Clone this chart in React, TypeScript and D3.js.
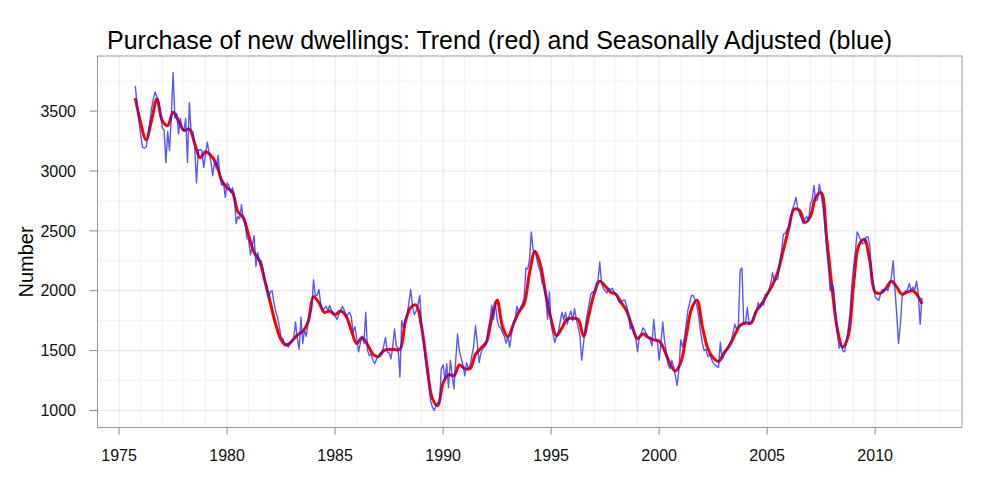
import React from "react";
import * as d3 from "d3";

// Monthly seasonally adjusted series, starting October 1975
const saStart = 1975 + 9 / 12;
const sa1975 = [3710, 3560, 3420];
const sa1976 = [3300, 3200, 3190, 3200, 3290, 3400, 3520, 3600, 3660, 3620, 3580, 3480];
const sa1977 = [3360, 3340, 3070, 3330, 3170, 3450, 3820, 3440, 3480, 3310, 3440, 3360];
const sa1978 = [3330, 3440, 3070, 3570, 3330, 3330, 3200, 2900, 3170, 3180, 3170, 3030];
const sa1979 = [3140, 3240, 3150, 3080, 2960, 3080, 3020, 3130, 2960, 2880, 2900, 2780];
const sa1980 = [2900, 2880, 2820, 2860, 2800, 2560, 2620, 2600, 2720, 2600, 2560, 2440];
const sa1981 = [2420, 2300, 2380, 2460, 2200, 2320, 2240, 2250, 2180, 2080, 2050, 1940];
const sa1982 = [1990, 2000, 1900, 1830, 1780, 1700, 1610, 1600, 1550, 1560, 1530, 1560];
const sa1983 = [1580, 1600, 1740, 1600, 1510, 1780, 1560, 1670, 1620, 1740, 1800, 1850];
const sa1984 = [2090, 1960, 1960, 2010, 1890, 1840, 1850, 1870, 1830, 1880, 1830, 1820];
const sa1985 = [1790, 1760, 1800, 1830, 1870, 1840, 1790, 1800, 1820, 1780, 1650, 1700];
const sa1986 = [1600, 1490, 1560, 1620, 1560, 1820, 1500, 1460, 1470, 1420, 1390, 1430];
const sa1987 = [1450, 1480, 1470, 1540, 1610, 1490, 1480, 1430, 1530, 1680, 1540, 1520];
const sa1988 = [1280, 1750, 1690, 1760, 1800, 1900, 2010, 1870, 1800, 1830, 1880, 1960];
const sa1989 = [1720, 1600, 1450, 1320, 1250, 1080, 1030, 1000, 1040, 1070, 1060, 1350];
const sa1990 = [1380, 1260, 1390, 1190, 1420, 1300, 1180, 1420, 1640, 1500, 1440, 1380];
const sa1991 = [1290, 1400, 1350, 1380, 1460, 1540, 1710, 1560, 1400, 1480, 1520, 1530];
const sa1992 = [1560, 1680, 1750, 1880, 1760, 1900, 1760, 1700, 1690, 1650, 1620, 1560];
const sa1993 = [1620, 1530, 1640, 1720, 1760, 1870, 1820, 1860, 1890, 1940, 2190, 2180];
const sa1994 = [2260, 2490, 2340, 2330, 2270, 2200, 2160, 2060, 2050, 1950, 1760, 1990];
const sa1995 = [1720, 1640, 1570, 1620, 1660, 1740, 1820, 1760, 1820, 1720, 1790, 1830];
const sa1996 = [1750, 1850, 1760, 1700, 1620, 1420, 1560, 1700, 1800, 1880, 1970, 1990];
const sa1997 = [1980, 2060, 2080, 2240, 2060, 2020, 2000, 1980, 2020, 2010, 2020, 1990];
const sa1998 = [1970, 1930, 1900, 1910, 1920, 1920, 1870, 1800, 1680, 1720, 1650, 1600];
const sa1999 = [1490, 1620, 1640, 1690, 1670, 1640, 1610, 1590, 1540, 1760, 1600, 1580];
const sa2000 = [1420, 1560, 1740, 1580, 1480, 1380, 1350, 1420, 1370, 1290, 1210, 1340];
const sa2001 = [1590, 1530, 1600, 1720, 1840, 1900, 1960, 1960, 1920, 1870, 1780, 1660];
const sa2002 = [1560, 1500, 1510, 1450, 1470, 1430, 1400, 1380, 1370, 1360, 1570, 1430];
const sa2003 = [1460, 1490, 1520, 1560, 1580, 1640, 1720, 1680, 1700, 2170, 2190, 1720];
const sa2004 = [1730, 1860, 1720, 1730, 1760, 1800, 1830, 1900, 1860, 1900, 1880, 1970];
const sa2005 = [1960, 2010, 2060, 2150, 2080, 2090, 2100, 2250, 2330, 2470, 2480, 2510];
const sa2006 = [2530, 2600, 2680, 2720, 2780, 2690, 2640, 2600, 2560, 2600, 2620, 2580];
const sa2007 = [2720, 2760, 2880, 2750, 2760, 2890, 2800, 2700, 2560, 2350, 2200, 2000];
const sa2008 = [2060, 2010, 1830, 1640, 1520, 1560, 1500, 1490, 1570, 1680, 1810, 2040];
const sa2009 = [2200, 2330, 2490, 2460, 2420, 2390, 2400, 2450, 2450, 2380, 2140, 2060];
const sa2010 = [1950, 1930, 1920, 1970, 2010, 2000, 2020, 2000, 2050, 2110, 2250, 2010];
const sa2011 = [1800, 1560, 1720, 1950, 1980, 2000, 2010, 2060, 2000, 2030, 2010, 2080];
const sa2012 = [1960, 1720, 1940];

const saValues = [
  ...sa1975, ...sa1976, ...sa1977, ...sa1978, ...sa1979, ...sa1980, ...sa1981, ...sa1982,
  ...sa1983, ...sa1984, ...sa1985, ...sa1986, ...sa1987, ...sa1988, ...sa1989, ...sa1990,
  ...sa1991, ...sa1992, ...sa1993, ...sa1994, ...sa1995, ...sa1996, ...sa1997, ...sa1998,
  ...sa1999, ...sa2000, ...sa2001, ...sa2002, ...sa2003, ...sa2004, ...sa2005, ...sa2006,
  ...sa2007, ...sa2008, ...sa2009, ...sa2010, ...sa2011, ...sa2012,
];

// Trend series, quarterly samples (every 3 months from October 1975), last point March 2012
const trendValues = [
  3610,
  3400, 3260, 3420, 3600,
  3420, 3380, 3490, 3420,
  3340, 3350, 3230, 3110,
  3160, 3130, 3060, 2920,
  2860, 2820, 2660, 2610,
  2460, 2320, 2250, 2080,
  1900, 1720, 1590, 1545,
  1580, 1630, 1660, 1740,
  1950, 1900, 1820, 1830,
  1800, 1830, 1790, 1670,
  1560, 1610, 1550, 1470,
  1450, 1500, 1510, 1510,
  1510, 1740, 1860, 1880,
  1700, 1380, 1100, 1040,
  1230, 1300, 1290, 1380,
  1350, 1350, 1470, 1520,
  1570, 1770, 1920, 1700,
  1615, 1720, 1820, 1890,
  2150, 2330, 2220, 1970,
  1760, 1625, 1690, 1765,
  1770, 1760, 1620, 1800,
  1980, 2080, 2040, 1990,
  1970, 1900, 1830, 1700,
  1600, 1640, 1610, 1590,
  1580, 1500, 1390, 1330,
  1400, 1620, 1850, 1920,
  1700, 1520, 1440, 1410,
  1480, 1540, 1630, 1710,
  1730, 1730, 1830, 1890,
  1970, 2050, 2160, 2340,
  2520, 2680, 2670, 2570,
  2620, 2780, 2820, 2450,
  2030, 1680, 1530, 1620,
  2050, 2380, 2430, 2250,
  1990, 1980, 2020, 2080,
  2030, 1970, 1990, 2000,
  1950, 1890,
];

const xTicks = [1975, 1980, 1985, 1990, 1995, 2000, 2005, 2010];
const yTicks = [1000, 1500, 2000, 2500, 3000, 3500];
const xMinor = d3.range(1974, 2015, 1);
const yMinor = d3.range(750, 4000, 250);

const titleText = "Purchase of new dwellings: Trend (red) and Seasonally Adjusted (blue)";
const yLabel = "Number";

const W = 1000;
const H = 500;
const left = 97.5;
const right = 962;
const top = 56;
const bottom = 427.5;
const FONT = "'Liberation Sans', Arial, Helvetica, sans-serif";

export default function App() {
  const x = d3.scaleLinear().domain([1974.0, 2014.02]).range([left, right]);
  const y = d3.scaleLinear().domain([858, 3960]).range([bottom, top]);

  const saPts: [number, number][] = saValues.map((v, i) => [saStart + i / 12, v]);
  const lastMonth = saValues.length - 1;
  const trendPts: [number, number][] = trendValues.map((v, i) => [
    saStart + Math.min(i * 3, lastMonth) / 12,
    v,
  ]);

  const saLine = d3
    .line<[number, number]>()
    .x((d) => x(d[0]))
    .y((d) => y(d[1]))
    .curve(d3.curveLinear);
  const trendLine = d3
    .line<[number, number]>()
    .x((d) => x(d[0]))
    .y((d) => y(d[1]))
    .curve(d3.curveCatmullRom.alpha(0.5));

  return (
    <svg
      width={W}
      height={H}
      style={{ position: "absolute", left: 0, top: 0, background: "#fff" }}
      fontFamily={FONT}
    >
      <rect x={0} y={0} width={W} height={H} fill="#fff" />
      <text x={107} y={49} fontSize={25} fill="#000">
        {titleText}
      </text>
      <g>
        {xMinor
          .filter((v) => x(v) > left + 0.5 && x(v) < right - 0.5 && v % 5 !== 0)
          .map((v) => (
            <line key={"xm" + v} x1={x(v)} x2={x(v)} y1={top} y2={bottom} stroke="#f3f3f3" strokeWidth={1} />
          ))}
        {yMinor
          .filter((v) => y(v) > top + 0.5 && y(v) < bottom - 0.5 && v % 500 !== 0)
          .map((v) => (
            <line key={"ym" + v} x1={left} x2={right} y1={y(v)} y2={y(v)} stroke="#f3f3f3" strokeWidth={1} />
          ))}
        {xTicks.map((v) => (
          <line key={"xg" + v} x1={x(v)} x2={x(v)} y1={top} y2={bottom} stroke="#e6e6e6" strokeWidth={1} />
        ))}
        {yTicks.map((v) => (
          <line key={"yg" + v} x1={left} x2={right} y1={y(v)} y2={y(v)} stroke="#e6e6e6" strokeWidth={1} />
        ))}
      </g>
      <path d={trendLine(trendPts) || ""} fill="none" stroke="#ff0000" strokeWidth={3} strokeLinejoin="round" />
      <path
        d={saLine(saPts) || ""}
        fill="none"
        stroke="#2020ff"
        strokeOpacity={0.75}
        strokeWidth={1.4}
        strokeLinejoin="round"
      />
      <rect x={left} y={top} width={right - left} height={bottom - top} fill="none" stroke="#999" strokeWidth={1} />
      <g>
        {xTicks.map((v) => (
          <g key={"xt" + v}>
            <line x1={x(v)} x2={x(v)} y1={bottom} y2={bottom + 7} stroke="#888" strokeWidth={1} />
            <text x={x(v)} y={461} fontSize={16} textAnchor="middle" fill="#111">
              {v}
            </text>
          </g>
        ))}
        {yTicks.map((v) => (
          <g key={"yt" + v}>
            <line x1={left - 8} x2={left} y1={y(v)} y2={y(v)} stroke="#888" strokeWidth={1} />
            <text x={76} y={y(v)} dy="0.36em" fontSize={16} textAnchor="end" fill="#111">
              {v}
            </text>
          </g>
        ))}
      </g>
      <text
        transform={`translate(33, 262) rotate(-90)`}
        fontSize={20}
        textAnchor="middle"
        fill="#000"
      >
        {yLabel}
      </text>
    </svg>
  );
}
